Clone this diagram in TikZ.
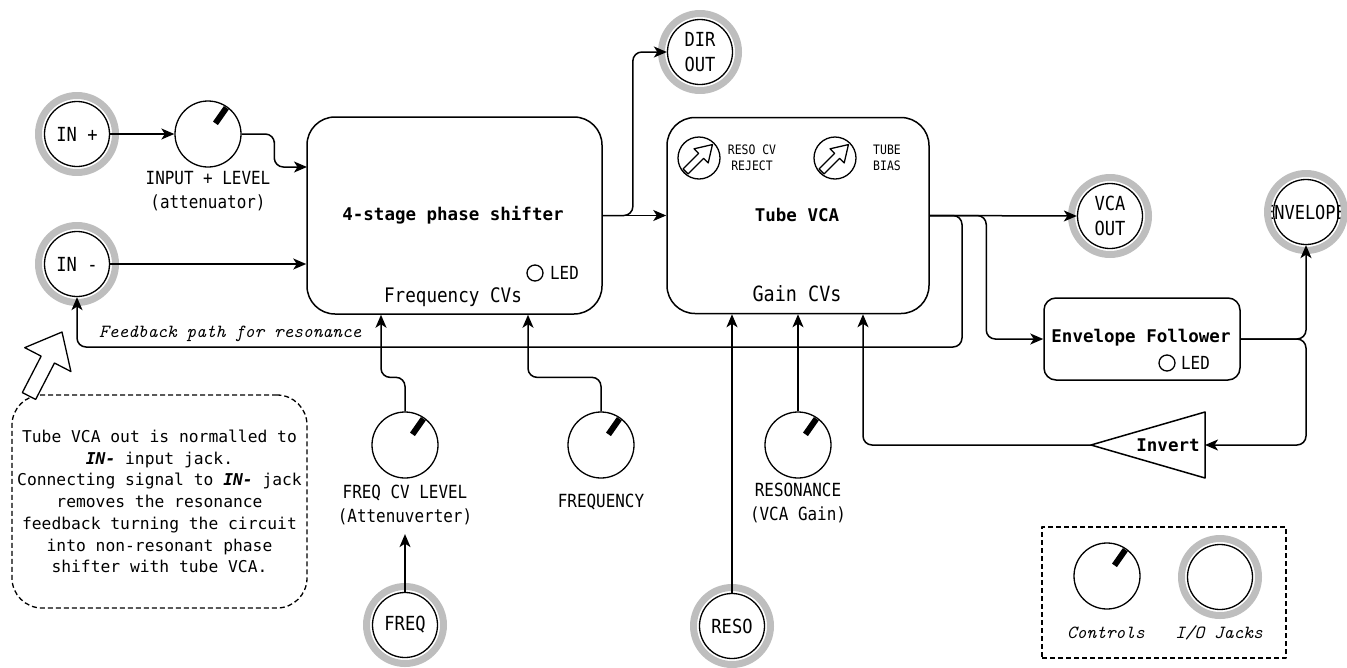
\documentclass[tikz,border=0pt]{standalone}
\usepackage{fontspec}
\newfontfamily\dmono{DejaVu Sans Mono}
\newfontfamily\cmono{DejaVu Sans Mono}[FakeStretch=0.88]
\usetikzlibrary{arrows.meta,calc}
\definecolor{ringgray}{RGB}{190,190,190}
\begin{document}
\begin{tikzpicture}[x=1pt,y=-1pt,line join=round,
  conn/.style={line width=1.5pt,-{Stealth[length=13pt,width=11pt,inset=3.5pt]},rounded corners=9pt},
  jack/.style={circle,draw,line width=1.3pt,minimum size=65pt,inner sep=0pt,align=center,font=\cmono\fontsize{19.4}{25}\selectfont},
  knob/.style={circle,draw,line width=1.3pt,minimum size=66pt,inner sep=0pt},
  block/.style={draw,line width=1.5pt,rounded corners=28pt,inner sep=0pt},
  lbl/.style={font=\cmono\fontsize{18.1}{24}\selectfont,align=center,inner sep=1pt},
  smalllbl/.style={font=\cmono\fontsize{13}{16}\selectfont,align=center,inner sep=0pt},
  title/.style={font=\dmono\bfseries\fontsize{17.5}{21}\selectfont,inner sep=0pt},
  ring/.style={draw=ringgray,line width=7pt},
  pointer/.style={line width=6pt},
  led/.style={circle,draw,line width=1.3pt,minimum size=16pt,inner sep=0pt},
  ledtxt/.style={font=\cmono\fontsize{18}{20}\selectfont,anchor=west,inner sep=0pt},
  scripttxt/.style={font=\ttfamily\itshape\fontsize{18.5}{22}\selectfont,inner sep=0pt},
  trim/.style={circle,draw,line width=1.3pt,minimum size=42pt,inner sep=0pt},
  hollow/.style={draw,line width=1.3pt,fill=white},
]
\useasboundingbox (0,0) rectangle (1347,667);

% jacks
\node[jack] (inp) at (77,134) {IN +};
\node[jack] (inm) at (77,264) {IN -};
\node[jack] (dir) at (700,52) {DIR\\OUT};
\node[jack] (vcaout) at (1110,216) {VCA\\OUT};
\node[jack] (env) at (1306,212) {};
\node[font=\cmono\fontsize{19.3}{21}\selectfont,inner sep=0pt] (envtxt) at (1305,212) {ENVELOPE};
\node[jack] (freq) at (405,625) {FREQ};
\node[jack] (reso) at (732,626) {RESO};
\node[jack] (legj) at (1220,577) {};
\foreach \j in {inp,inm,dir,vcaout,env,freq,reso,legj}
  \draw[ring] (\j.center) circle (38.5pt);

% knobs
\node[knob] (k1) at (208,134) {};
\node[knob] (k2) at (405,445) {};
\node[knob] (k3) at (601,445) {};
\node[knob] (k4) at (798,445) {};
\node[knob] (legk) at (1107,576) {};
\foreach \k in {k1,k2,k3,k4,legk}
  \draw[pointer] ($(\k.center)+(-55:13)$) -- ($(\k.center)+(-55:32)$);

% knob labels
\node[lbl] (l1) at (208,191) {INPUT + LEVEL\\(attenuator)};
\node[lbl] (l2) at (405,505) {FREQ CV LEVEL\\(Attenuverter)};
\node[lbl] (l3) at (601,502) {FREQUENCY};
\node[lbl] (l4) at (798,503) {RESONANCE\\(VCA Gain)};

% phase shifter
\node[block,minimum width=295pt,minimum height=197pt] (ps) at (454.5,215.5) {};
\node[title] (pst) at (453,215) {4-stage phase shifter};
\node[font=\cmono\fontsize{20}{22}\selectfont,inner sep=0pt] (psc) at (453,297) {Frequency CVs};
\node[led] (led1) at (535,273) {};
\node[ledtxt] (led1t) at (550,273) {LED};

% tube VCA
\node[block,minimum width=262pt,minimum height=196pt] (vca) at (798,215.5) {};
\node[title] (vcat) at (797,215) {Tube VCA};
\node[font=\cmono\fontsize{21}{23}\selectfont,inner sep=0pt] (vcac) at (797,294) {Gain CVs};
\node[trim] (t1) at (699,158) {};
\node[trim] (t2) at (835,158) {};
\foreach \t in {t1,t2}{
  \begin{scope}[shift={(\t.center)},rotate=45]
    \draw[line width=1.3pt] (-19,-3.5) -- (3,-3.5) -- (3,-10) -- (19,0) -- (3,10) -- (3,3.5) -- (-19,3.5) -- cycle;
  \end{scope}}
\node[smalllbl] (t1l) at (752,158) {RESO CV\\REJECT};
\node[smalllbl] (t2l) at (887,158) {TUBE\\BIAS};

% envelope follower
\node[block,rounded corners=12pt,minimum width=196pt,minimum height=82pt] (ef) at (1142,339) {};
\node[title] (eft) at (1141,338) {Envelope Follower};
\node[led] (led2) at (1167,363) {};
\node[ledtxt] (led2t) at (1181,363) {LED};

% invert
\coordinate (invtip) at (1091,445);
\coordinate (invr) at (1205,445);
\draw[line width=1.5pt] (invtip) -- (1205,412) -- (1205,478) -- cycle;
\node[title] (invt) at (1168,445) {Invert};

% connectors
\draw[conn] (inp.east) -- (k1.west);
\coordinate (psin1) at (307,167);
\draw[conn] (k1.east) -| ($(k1.east)!0.5!(psin1)$) |- (psin1);
\draw[conn] (inm.east) -- (inm.east -| ps.west);
\draw[conn] (ps.east) -- (vca.west);
\draw[conn] (ps.east) -| ($(dir.west)+(-34,0)$) -- (dir.west);
\draw[conn] (vca.east) -- (vcaout.west);
\draw[conn] (vca.east) -| (962,347) -| (inm.south);
\draw[conn] (vca.east) -| ($(ef.west)+(-57,0)$) -- (ef.west);
\draw[conn] (ef.east) -| (env.south);
\draw[conn] (ef.east) -| ($(invr)+(101,0)$) -- (invr);
\draw[conn] (invtip) -| ($(vca.south)+(65,0)$);
\draw[conn] (reso.north) -- (reso.north |- vca.south);
\draw[conn] (k4.north) -- (k4.north |- vca.south);
\draw[conn] (k2.north) -- ++(0,-34) -| ($(ps.south)+(-73.5,0)$);
\draw[conn] (k3.north) -- ++(0,-34) -| ($(ps.south)+(73.5,0)$);
\draw[conn] (freq.north) -- ($(l2.south)+(0,8)$);

\node[scripttxt,anchor=west] (fbl) at (99,334) {Feedback path for resonance};

% callout
\node[draw,line width=1.3pt,dash pattern=on 5pt off 3pt,rounded corners=30pt,
  minimum width=295pt,minimum height=213pt,align=center,
  font=\dmono\fontsize{16.3}{21.7}\selectfont] (note) at (159.5,501.5)
  {Tube VCA out is normalled to\\{\bfseries\itshape IN-} input jack.\\Connecting signal to {\bfseries\itshape IN-} jack\\removes the resonance\\feedback turning the circuit\\into non-resonant phase\\shifter with tube VCA.};
\begin{scope}[shift={(29,396)},rotate=62.7]
  \draw[hollow] (0,-7.5) -- (41,-7.5) -- (41,-26) -- (72,0) -- (41,26) -- (41,7.5) -- (0,7.5) -- cycle;
\end{scope}

% legend
\node[draw,line width=1.3pt,dash pattern=on 5pt off 3pt,minimum width=244pt,minimum height=131pt] (legend) at (1164,592.5) {};
\node[scripttxt] (legkt) at (1106,633) {Controls};
\node[scripttxt] (legjt) at (1219,633) {I/O Jacks};
\end{tikzpicture}
\end{document}
